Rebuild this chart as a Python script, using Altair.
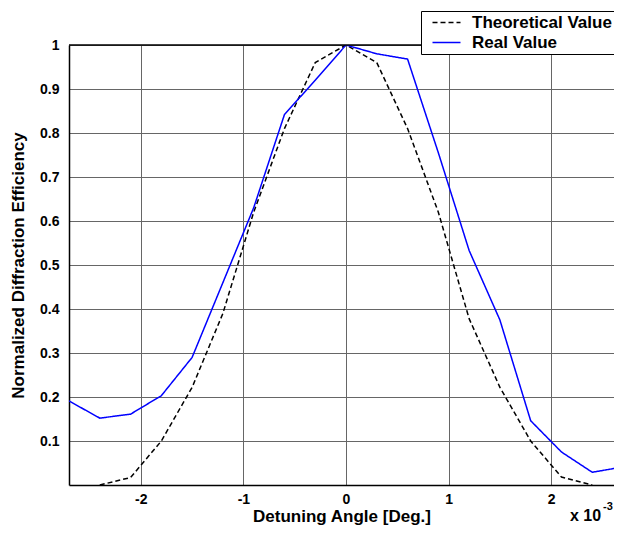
import altair as alt
import pandas as pd

# Data (detuning angle in units of 1e-3 deg)
x_theory = [-2.4, -2.1, -1.8, -1.5, -1.2, -0.9, -0.6, -0.3, 0.0, 0.3, 0.6, 0.9, 1.2, 1.5, 1.8, 2.1, 2.4]
y_theory = [0.0, 0.017, 0.1, 0.222, 0.39, 0.62, 0.81, 0.96, 1.0, 0.96, 0.81, 0.62, 0.378, 0.222, 0.1, 0.018, 0.0]
x_real = [-2.7, -2.4, -2.1, -1.8, -1.5, -1.2, -0.9, -0.6, -0.3, 0.0, 0.3, 0.6, 0.9, 1.2, 1.5, 1.8, 2.1, 2.4, 2.7]
y_real = [0.191, 0.152, 0.161, 0.203, 0.29, 0.46, 0.63, 0.842, 0.92, 1.0, 0.98, 0.968, 0.755, 0.533, 0.375, 0.146, 0.075, 0.029, 0.041]
series = ["Theoretical Value", "Real Value"]
x_ticks = [-2, -1, 0, 1, 2]
y_ticks = [0.1, 0.2, 0.3, 0.4, 0.5, 0.6, 0.7, 0.8, 0.9, 1.0]

df = pd.DataFrame({
    "x": x_theory + x_real,
    "y": y_theory + y_real,
    "series": [series[0]] * len(x_theory) + [series[1]] * len(x_real),
})

FONT = "Liberation Sans"
W, H = 545, 440

legend = alt.Legend(
    title=None, orient="none", legendX=352, legendY=-34,
    fillColor="white", strokeColor="black", padding=3,
    symbolType="M-2,0H2", symbolSize=196, symbolStrokeWidth=1.5,
    symbolOffset=14, labelOffset=17,
    labelFont=FONT, labelFontSize=17, labelFontWeight="bold", labelColor="black",
    rowPadding=2,
)

lines = alt.Chart(df).mark_line(strokeWidth=1.5, clip=True).encode(
    x=alt.X("x:Q", scale=alt.Scale(domain=[-2.7, 2.612], nice=False, zero=False),
            axis=alt.Axis(values=x_ticks, labelExpr="'' + datum.value", title="Detuning Angle [Deg.]",
                          labelPadding=7, titlePadding=2)),
    y=alt.Y("y:Q", scale=alt.Scale(domain=[0, 1], nice=False),
            axis=alt.Axis(values=y_ticks, format="~g", title="Normalized Diffraction Efficiency",
                          labelPadding=10, titlePadding=12)),
    color=alt.Color("series:N", scale=alt.Scale(domain=series, range=["black", "blue"]), legend=legend),
    strokeDash=alt.StrokeDash("series:N", scale=alt.Scale(domain=series, range=[[5, 3], [1, 0]]), legend=legend),
    order="x:Q",
)

top_frame = alt.Chart(pd.DataFrame({"k": [0]})).mark_rule(color="black", strokeWidth=1.5).encode(
    x=alt.value(0), x2=alt.value(W), y=alt.value(0)
)

exp_main = alt.Chart(pd.DataFrame({"t": ["x 10"]})).mark_text(
    font=FONT, fontSize=16, fontWeight="bold", align="left", baseline="middle", color="black"
).encode(x=alt.value(501), y=alt.value(471), text="t:N")
exp_sup = alt.Chart(pd.DataFrame({"t": ["-3"]})).mark_text(
    font=FONT, fontSize=11, fontWeight="bold", align="left", baseline="middle", color="black"
).encode(x=alt.value(534), y=alt.value(462), text="t:N")

chart = alt.layer(lines, top_frame, exp_main, exp_sup).properties(
    width=W, height=H,
    autosize=alt.AutoSizeParams(type="none"),
    padding={"left": 61, "top": 37, "right": 0, "bottom": 42},
).configure_view(
    stroke="transparent"
).configure_axis(
    grid=True, gridColor="#666666", gridWidth=1, gridOpacity=1,
    domainColor="black", domainWidth=1.5, ticks=False, tickSize=0,
    labelFont=FONT, labelFontSize=14, labelFontWeight="bold", labelColor="black",
    titleFont=FONT, titleFontSize=17, titleFontWeight="bold", titleColor="black",
)

chart.save("out.html", embed_options={"renderer": "svg", "actions": False})
